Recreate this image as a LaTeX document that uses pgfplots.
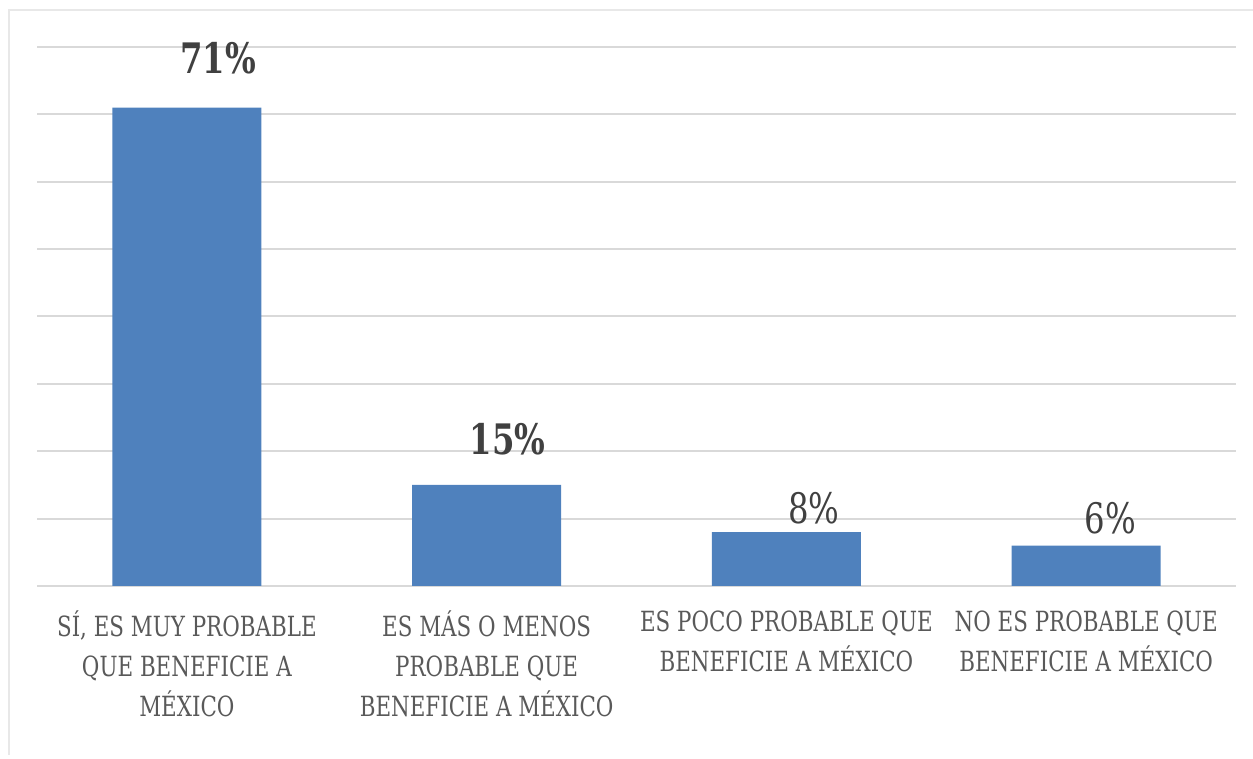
\documentclass[border=0pt]{standalone}
\usepackage{fontspec}
\setmainfont{DejaVu Serif}[FakeStretch=0.77]
\usepackage{pgfplots}
\pgfplotsset{compat=1.18}
\usepackage{pgfplotstable}
\definecolor{barblue}{HTML}{4F81BD}
\definecolor{gridgray}{HTML}{D9D9D9}
\definecolor{labgray}{HTML}{595959}
\definecolor{valgray}{HTML}{404040}

% off/dx: label offsets in pt, bf: bold flag
\pgfplotstableread{
x val off  dx    bf
0 71  24.5 15.5  1
1 15  23   10.5  1
2 8   12   13.75 0
3 6   13.5 12.25 0
}\datatable

\begin{document}
\begin{tikzpicture}
\useasboundingbox (0,0) rectangle (626.5pt,379.5pt);
\draw[gray!18, line width=1pt] (4.5pt,2pt) -- (4.5pt,374.5pt) -- (626.5pt,374.5pt);
\begin{axis}[
  at={(18.5pt,86.5pt)}, anchor=south west,
  scale only axis,
  width=599.5pt, height=269.5pt,
  xmin=-0.5, xmax=3.5,
  ymin=0, ymax=80,
  ytick={0,10,...,80},
  yticklabels={},
  ymajorgrids=true,
  grid style={gridgray, line width=1pt},
  axis line style={draw=none},
  major tick length=0pt,
  xtick=data,
  xticklabels={{SÍ, ES MUY PROBABLE\\QUE BENEFICIE A\\MÉXICO},
               {ES MÁS O MENOS\\PROBABLE QUE\\BENEFICIE A MÉXICO},
               {ES POCO PROBABLE QUE\\BENEFICIE A MÉXICO},
               {NO ES PROBABLE QUE\\BENEFICIE A MÉXICO}},
  xticklabel style={align=center, text=labgray,
    font=\fontsize{13.9}{20}\selectfont, yshift=-9pt},
  clip=false,
]
\addplot[ybar, bar width=74.5pt, fill=barblue, draw=none,
  nodes near coords={\pgfmathprintnumber[assume math mode=true]{\pgfplotspointmeta}\%},
  visualization depends on={\thisrow{off} \as \off},
  visualization depends on={\thisrow{dx} \as \dx},
  visualization depends on={\thisrow{bf} \as \bfflag},
  every node near coord/.append style={anchor=center, yshift=\off pt, xshift=\dx pt,
    font=\fontsize{21}{24}\selectfont\ifdim\bfflag pt>0.5pt\bfseries\fi, text=valgray},
] table[x=x, y=val] {\datatable};
\end{axis}
\end{tikzpicture}
\end{document}
